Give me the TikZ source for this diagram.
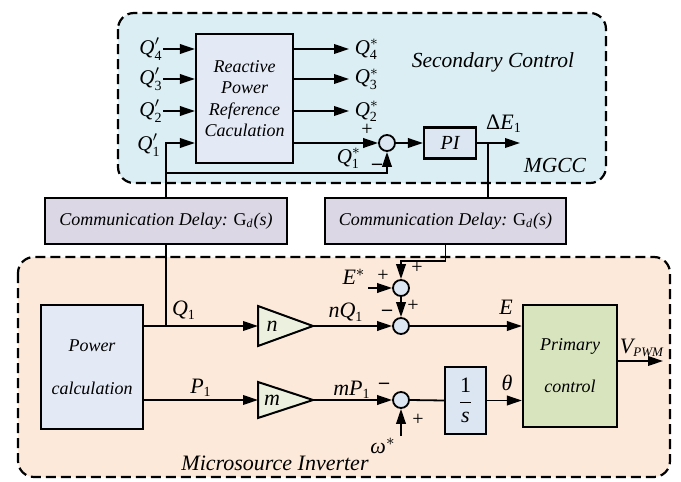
\documentclass[tikz,border=0pt]{standalone}
\usepackage{fontspec}
\setmainfont{Liberation Serif}[ItalicFont={Liberation Serif Italic},BoldFont={Liberation Serif Bold},BoldItalicFont={Liberation Serif Bold Italic}]
\usetikzlibrary{arrows.meta}
\definecolor{secbg}{HTML}{DAEEF3}
\definecolor{invbg}{HTML}{FDE9D9}
\definecolor{rprfill}{HTML}{E4EAF5}
\definecolor{cdfill}{HTML}{DCD7E5}
\definecolor{sumfill}{HTML}{DCE6F2}
\definecolor{trifill}{HTML}{EBF1DE}
\definecolor{primfill}{HTML}{D7E4BD}
\newcommand{\vv}[1]{\mbox{\itshape #1}}
\newcommand{\sbx}[1]{\mbox{\fontsize{7}{7.5}\selectfont #1}}
\newcommand{\sbxs}[1]{\mbox{\fontsize{6.5}{7}\selectfont #1}}
\begin{document}
\begin{tikzpicture}[x=0.5pt,y=-0.5pt,
 lw/.style={line width=0.9pt},
 arr/.style={lw,-{Triangle[length=7.5pt,width=4.8pt]}},
 blk/.style={draw,line width=1.1pt,inner sep=0pt,align=center},
 sum/.style={circle,draw,line width=0.9pt,fill=sumfill,minimum size=8pt,inner sep=0pt},
 lbl/.style={inner sep=0pt,font=\fontsize{11}{13}\selectfont},
 qlbl/.style={inner sep=0pt,font=\fontsize{10.5}{12}\selectfont},
 sgn/.style={inner sep=0pt,font=\fontsize{10}{12}\selectfont},
 ttl/.style={inner sep=0pt,font=\fontsize{10.75}{13}\selectfont\itshape},
 zone/.style={draw,line width=1.1pt,dash pattern=on 5pt off 2.5pt,rounded corners=8pt},
 tri/.style={draw,line width=1pt,fill=trifill,line join=miter}
]
\useasboundingbox (0,0) rectangle (681,482);
\draw[zone,fill=secbg] (118,13) rectangle (606,183);
\draw[zone,fill=invbg] (18,257) rectangle (670,477);

% ---------- secondary control ----------
\node[blk,fill=rprfill,minimum width=48.5pt,minimum height=64.5pt,
      font=\fontsize{9}{10.75}\selectfont\itshape] (rpr) at (244.5,98.5)
      {Reactive\\Power\\Reference\\Caculation};
\node[qlbl,anchor=east] (q4i) at (163,49) {$\vv{Q}_{\sbx{4}}^{\prime}$};
\node[qlbl,anchor=east] (q3i) at (163,79) {$\vv{Q}_{\sbx{3}}^{\prime}$};
\node[qlbl,anchor=east] (q2i) at (163,111) {$\vv{Q}_{\sbx{2}}^{\prime}$};
\node[qlbl] (q1i) at (149,145) {$\vv{Q}_{\sbx{1}}^{\prime}$};
\draw[arr] (q4i.east) -- (rpr.west |- q4i.east);
\draw[arr] (q3i.east) -- (rpr.west |- q3i.east);
\draw[arr] (q2i.east) -- (rpr.west |- q2i.east);

\coordinate (o4) at (349,49);
\coordinate (o3) at (349,79);
\coordinate (o2) at (349,111);
\node[qlbl] (q4o) at (367,49) {$\vv{Q}_{\sbx{4}}^{*}$};
\node[qlbl] (q3o) at (367,79) {$\vv{Q}_{\sbx{3}}^{*}$};
\node[qlbl] (q2o) at (367,111) {$\vv{Q}_{\sbx{2}}^{*}$};
\draw[arr] (rpr.east |- o4) -- (o4);
\draw[arr] (rpr.east |- o3) -- (o3);
\draw[arr] (rpr.east |- o2) -- (o2);

\node[sum] (s0) at (387,143) {};
\node[qlbl] (q1o) at (349,158) {$\vv{Q}_{\sbx{1}}^{*}$};
\node[sgn] (s0p) at (367,130) {+};
\node[sgn,font=\fontsize{10}{12}\selectfont\bfseries] (s0m) at (377,167) {–};
\draw[arr] (rpr.east |- s0) -- (s0.west);

\node[blk,fill=sumfill,minimum width=26pt,minimum height=15.5pt,
      font=\fontsize{10}{12}\selectfont\itshape] (pi) at (450,143) {PI};
\draw[arr] (s0.east) -- (pi.west);
\coordinate (de) at (520,143);
\draw[arr] (pi.east) -- (de);
\node[lbl] (delab) at (504,124) {$\mbox{Δ}\vv{E}_{\sbx{1}}$};
\coordinate (br) at (488,143);

\node[ttl] (sect) at (493,62) {Secondary Control};
\node[ttl] (mgcc) at (555,165) {MGCC};

% ---------- communication delays ----------
\node[blk,fill=cdfill,minimum width=121pt,minimum height=23pt,
      font=\fontsize{9}{11}\selectfont] (cd1) at (166,221)
      {\itshape Communication Delay: \upshape G\textsubscript{\itshape d}\itshape (s)};
\node[blk,fill=cdfill,minimum width=120.5pt,minimum height=23pt,
      font=\fontsize{9}{11}\selectfont] (cd2) at (445.5,221)
      {\itshape Communication Delay: \upshape G\textsubscript{\itshape d}\itshape (s)};

\coordinate (fb) at (0,173);
\draw[arr] (cd1.north) |- (rpr.west |- s0);
\draw[arr] (cd1.north |- fb) -| (s0.south);
\draw[lw] (br) -- (br |- cd2.north);

% ---------- microsource inverter ----------
\node[blk,fill=rprfill,minimum width=51pt,minimum height=62pt,
      font=\fontsize{9}{21.5}\selectfont\itshape] (pc) at (92,367) {Power\\calculation};
\node[blk,fill=primfill,minimum width=47pt,minimum height=61pt,
      font=\fontsize{9}{21}\selectfont\itshape] (prim) at (570,366) {Primary\\control};

\coordinate (nin) at (258,326);
\coordinate (nout) at (313,326);
\coordinate (min) at (258,400);
\coordinate (mout) at (313,400);
\draw[tri] (258,306) -- (nout) -- (258,346) -- cycle;
\draw[tri] (258,382) -- (mout) -- (258,418) -- cycle;
\node[lbl] (nlab) at (272,326) {\vv{n}};
\node[lbl] (mlab) at (272,400) {\vv{m}};

\node[sum] (c1) at (401,288) {};
\node[sum] (c2) at (401,326) {};
\node[sum] (c3) at (401,400) {};

\node[blk,fill=sumfill,minimum width=20.5pt,minimum height=33.5pt,
      font=\fontsize{11}{13}\selectfont] (integ) at (465.5,400.5)
      {$\displaystyle\frac{\mbox{1}}{\vv{s}}$};

\coordinate (estar) at (368,288);
\coordinate (wstar) at (401,436);
\coordinate (vout) at (663,361);

\draw[lw] (cd1.south) -- (cd1.south |- nin);
\draw[arr] (pc.east |- nin) -- (nin);
\draw[arr] (nout) -- (c2.west);
\draw[arr] (c2.east) -- (prim.west |- c2.east);
\draw[arr] (c1.south) -- (c2.north);
\draw[arr] (estar) -- (c1.west);
\draw[arr] (cd2.south) -- ++(0,16) -| (c1.north);
\draw[arr] (pc.east |- min) -- (min);
\draw[arr] (mout) -- (c3.west);
\draw[arr] (wstar) -- (c3.south);
\draw[lw] (c3.east) -- (integ.west);
\draw[arr] (integ.east) -- (prim.west |- integ.east);
\draw[arr] (prim.east |- vout) -- (vout);

\node[lbl] (q1lab) at (184,310) {$\vv{Q}_{\sbx{1}}$};
\node[lbl] (p1lab) at (201,388) {$\vv{P}_{\sbx{1}}$};
\node[lbl] (nqlab) at (346,312) {$\vv{nQ}_{\sbx{1}}$};
\node[lbl] (mplab) at (352,390) {$\vv{mP}_{\sbx{1}}$};
\node[lbl] (eslab) at (354,277) {$\vv{E}^{*}$};
\node[lbl] (elab) at (506,307) {\vv{E}};
\node[lbl] (thlab) at (507,383) {\vv{θ}};
\node[lbl] (wlab) at (383,446) {$\vv{ω}^{*}$};
\node[lbl] (vlab) at (642,348) {$\vv{V}_{\sbxs{\itshape PWM}}$};

\node[sgn] (c1p1) at (417,268) {+};
\node[sgn] (c1p2) at (383,276) {+};
\node[sgn] (c2p) at (413,306) {+};
\node[sgn,font=\fontsize{10}{12}\selectfont\bfseries] (c2m) at (387,313) {–};
\node[sgn,font=\fontsize{10}{12}\selectfont\bfseries] (c3m) at (384,386) {–};
\node[sgn] (c3p) at (418,420) {+};

\node[ttl,font=\fontsize{11}{13}\selectfont\itshape] (minv) at (275,463) {Microsource Inverter};
\end{tikzpicture}
\end{document}
